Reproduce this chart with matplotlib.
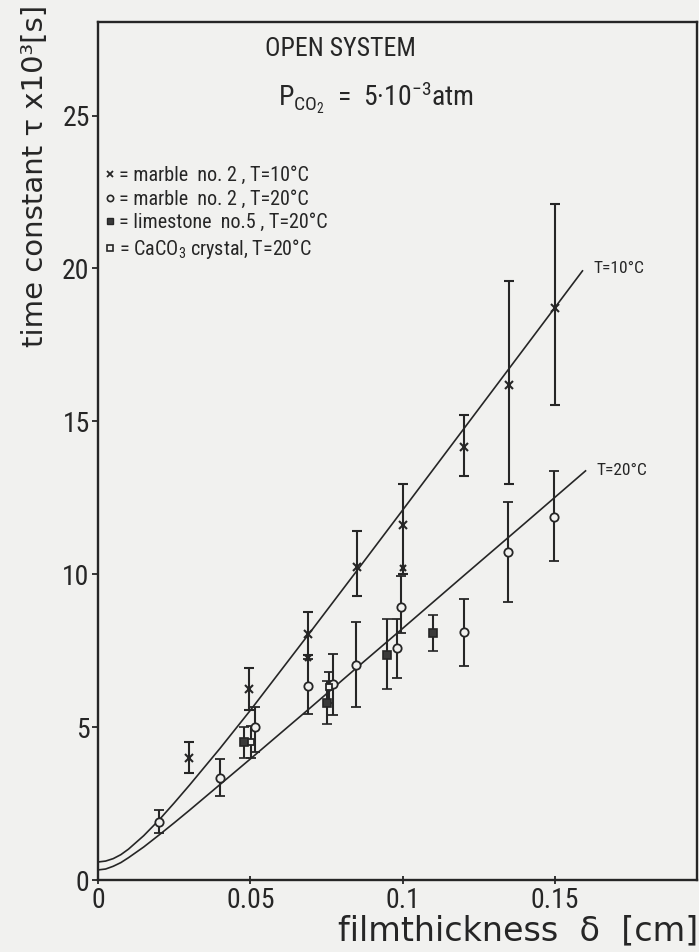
import matplotlib
matplotlib.use("Agg")
import matplotlib.pyplot as plt
from matplotlib import font_manager as fm
from matplotlib.lines import Line2D


def pick_font(*names):
    for n in names:
        try:
            fm.findfont(fm.FontProperties(family=n), fallback_to_default=False)
            return n
        except ValueError:
            pass
    return "DejaVu Sans"


NARROW = pick_font("Liberation Sans Narrow", "Roboto Condensed", "Open Sans Condensed", "Liberation Sans")
INK = "#262626"
PAPER = "#f1f1ef"

plt.rcParams["mathtext.fontset"] = "custom"
plt.rcParams["mathtext.rm"] = NARROW
plt.rcParams["mathtext.it"] = NARROW

# --- data ---
# marble no.2, T=10 C  (x markers)
m10_x = [0.030, 0.0496, 0.069, 0.085, 0.100, 0.120, 0.135, 0.150]
m10_y = [4.0, 6.25, 8.05, 10.25, 11.6, 14.15, 16.2, 18.7]
m10_lo = [0.5, 0.7, 0.7, 0.95, 1.6, 0.95, 3.25, 3.15]
m10_hi = [0.5, 0.7, 0.7, 1.15, 1.35, 1.05, 3.4, 3.4]
# extra small x marks sitting on the long bars
m10b_x = [0.069, 0.100]
m10b_y = [7.26, 10.2]

# marble no.2, T=20 C  (open circles)
m20_x = [0.020, 0.040, 0.0515, 0.069, 0.077, 0.0847, 0.098, 0.0995, 0.120, 0.1346, 0.1497]
m20_y = [1.9, 3.33, 5.0, 6.34, 6.4, 7.03, 7.58, 8.93, 8.1, 10.72, 11.86]
m20_lo = [0.37, 0.58, 0.82, 0.9, 1.0, 1.38, 0.98, 0.85, 1.1, 1.64, 1.44]
m20_hi = [0.39, 0.62, 0.65, 0.9, 1.0, 1.4, 0.95, 1.0, 1.08, 1.63, 1.51]

# limestone no.5, T=20 C  (filled squares)
ls_x = [0.048, 0.075, 0.095, 0.110]
ls_y = [4.5, 5.8, 7.35, 8.07]
ls_lo = [0.5, 0.7, 1.11, 0.58]
ls_hi = [0.5, 0.7, 1.18, 0.59]

# CaCO3 crystal, T=20 C  (open squares)
cc_x = [0.0503, 0.0757]
cc_y = [4.5, 6.3]
cc_lo = [0.5, 0.5]
cc_hi = [0.55, 0.5]

# fitted curves
c10_x = [0.000, 0.0025, 0.005, 0.0075, 0.010, 0.015, 0.020, 0.025, 0.030, 0.040, 0.050, 0.060,
         0.070, 0.085, 0.100, 0.120, 0.140, 0.159]
c10_y = [0.59, 0.62, 0.70, 0.83, 1.01, 1.45, 1.96, 2.52, 3.10, 4.30, 5.55, 6.85,
         8.15, 10.12, 12.10, 14.75, 17.40, 19.92]
c20_x = [0.000, 0.0025, 0.005, 0.0075, 0.010, 0.015, 0.020, 0.025, 0.030, 0.040, 0.050, 0.060,
         0.070, 0.085, 0.100, 0.120, 0.140, 0.160]
c20_y = [0.33, 0.36, 0.45, 0.57, 0.73, 1.08, 1.47, 1.87, 2.28, 3.12, 3.96, 4.81,
         5.66, 6.95, 8.23, 9.95, 11.66, 13.38]

xticks = [0, 0.05, 0.1, 0.15]
xtick_labels = ["0", "0.05", "0.1", "0.15"]
yticks = [0, 5, 10, 15, 20, 25]

fig = plt.figure(figsize=(6.99, 9.52), dpi=100, facecolor=PAPER)
ax = fig.add_axes([0.1402, 0.0756, 0.857, 0.901], facecolor=PAPER)

ax.plot(c10_x, c10_y, color=INK, lw=1.2, zorder=2)
ax.plot(c20_x, c20_y, color=INK, lw=1.2, zorder=2)

ebkw = dict(ecolor=INK, elinewidth=1.5, capsize=3.5, capthick=1.5, ls="none", zorder=3)
ax.errorbar(m10_x, m10_y, yerr=[m10_lo, m10_hi], fmt="x", color=INK, ms=6, mew=1.5, **ebkw)
ax.plot(m10b_x, m10b_y, "x", color=INK, ms=4.5, mew=1.6, zorder=4)
ax.errorbar(m20_x, m20_y, yerr=[m20_lo, m20_hi], fmt="o", mfc=PAPER, mec=INK, ms=6, mew=1.3, **ebkw)
ax.errorbar(ls_x, ls_y, yerr=[ls_lo, ls_hi], fmt="s", mfc="#3a3a3a", mec=INK, ms=6, mew=1.2, **ebkw)
ax.errorbar(cc_x, cc_y, yerr=[cc_lo, cc_hi], fmt="s", mfc=PAPER, mec=INK, ms=5, mew=1.3, **ebkw)

ax.set_xlim(0, 0.1966)
ax.set_ylim(0, 28.05)
ax.set_xticks(xticks)
ax.set_xticklabels(xtick_labels)
ax.set_yticks(yticks)
for s in ax.spines.values():
    s.set_linewidth(1.7)
    s.set_color(INK)
ax.tick_params(axis="y", direction="out", length=4, width=1.3, color=INK, pad=2,
               labelsize=20, labelcolor=INK)
ax.tick_params(axis="x", direction="inout", length=6, width=1.3, color=INK, pad=2,
               labelsize=20, labelcolor=INK)
for lab in ax.get_xticklabels() + ax.get_yticklabels():
    lab.set_fontfamily(NARROW)

# curve labels
ax.text(0.1625, 20.0, "T=10°C", fontfamily=NARROW, fontsize=12.5, color=INK, va="center", ha="left")
ax.text(0.1635, 13.4, "T=20°C", fontfamily=NARROW, fontsize=12.5, color=INK, va="center", ha="left")

# header
fig.text(0.487, 0.949, "OPEN SYSTEM", fontfamily=NARROW, fontsize=18.5, color=INK, ha="center", va="center")
fig.text(0.398, 0.897, r"P$_{\mathrm{CO_2}}$  =  5·10$^{-3}$atm", fontfamily=NARROW, fontsize=20,
         color=INK, ha="left", va="center")

# legend drawn as marker + text rows
handles = [
    Line2D([], [], ls="none", marker="x", color=INK, ms=5, mew=1.3),
    Line2D([], [], ls="none", marker="o", mfc=PAPER, mec=INK, ms=4.5, mew=1.2),
    Line2D([], [], ls="none", marker="s", mfc="#3a3a3a", mec=INK, ms=5, mew=1.0),
    Line2D([], [], ls="none", marker="s", mfc=PAPER, mec=INK, ms=5, mew=1.2),
]
labels = [
    "= marble  no. 2 , T=10°C",
    "= marble  no. 2 , T=20°C",
    "= limestone  no.5 , T=20°C",
    r"= CaCO$_3$ crystal, T=20°C",
]
leg = ax.legend(handles, labels, loc="upper left", bbox_to_anchor=(0.012, 0.832), frameon=False,
                handlelength=0.5, handletextpad=0.2, labelspacing=0.22, borderpad=0,
                borderaxespad=0, prop={"family": NARROW, "size": 14.5})
for t in leg.get_texts():
    t.set_color(INK)

# axis titles
fig.text(0.05, 0.815, "time constant τ x10³[s]", rotation=90, fontsize=21, color=INK,
         ha="center", va="center", fontfamily="DejaVu Sans")
fig.text(0.999, 0.022, "filmthickness  δ  [cm]", fontsize=24, color=INK,
         ha="right", va="center", fontfamily="DejaVu Sans")

fig.savefig("out.png", dpi=100, facecolor=PAPER)
